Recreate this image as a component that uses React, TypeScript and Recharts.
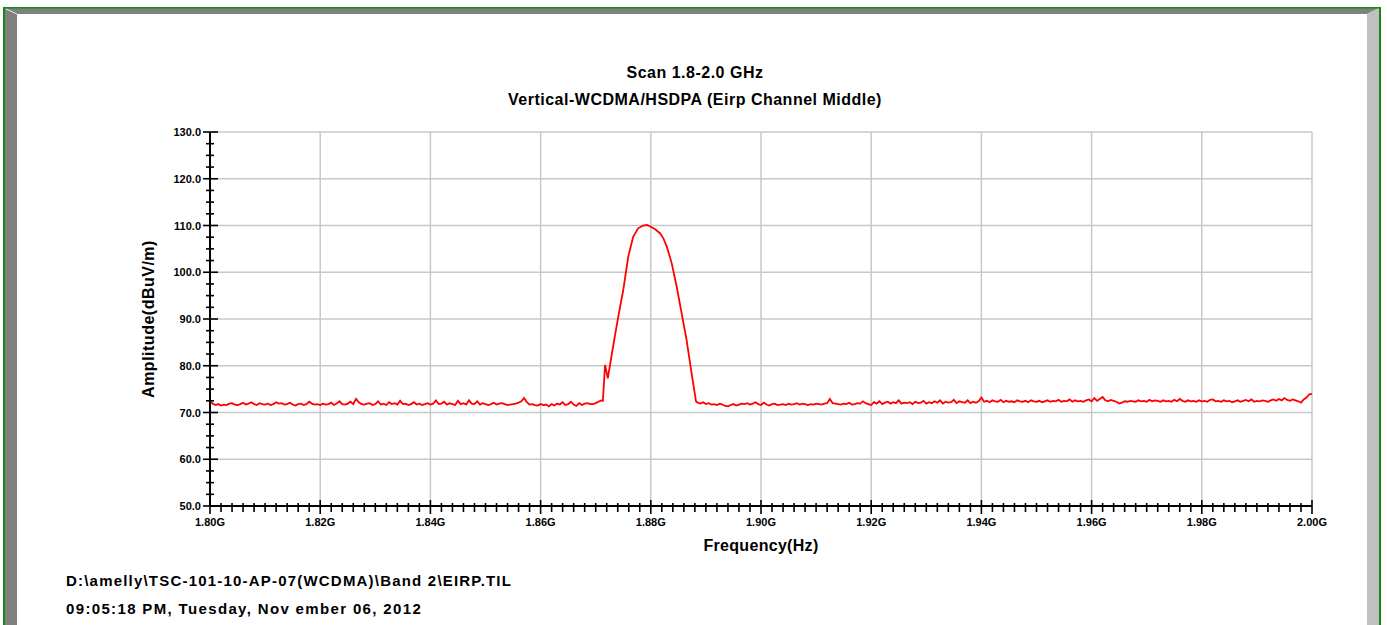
import { CartesianGrid, Line, LineChart, XAxis, YAxis } from "recharts"

const FONT = '"Liberation Sans", Arial, sans-serif'

// Noise floor below the carrier, 0.5 MHz steps starting at 1.800 GHz
const lowStartGHz = 1.8
const floorStepGHz = 0.0005
const lowFloor = [
  72.3, 71.9, 71.6, 71.8, 71.5, 71.7, 71.6, 71.9, 72.0, 71.7,
  71.6, 71.8, 72.1, 71.7, 71.9, 72.2, 71.8, 71.6, 72.0, 71.8,
  71.7, 71.9, 71.6, 71.8, 72.2, 71.9, 72.0, 71.7, 71.8, 72.1,
  71.7, 71.5, 71.8, 71.9, 71.6, 71.8, 72.3, 71.9, 71.7, 71.8,
  71.6, 71.9, 71.7, 71.8, 72.1, 71.6, 71.9, 72.4, 71.8, 71.7,
  71.9, 72.3, 71.8, 72.9, 72.2, 71.8, 71.7, 71.9, 72.0, 71.6,
  71.8, 72.4, 71.7, 71.9, 71.6, 72.2, 71.8, 72.0, 71.7, 72.5,
  71.8, 71.9, 71.6, 71.8, 72.2, 71.7, 71.9, 71.6, 71.8, 72.0,
  71.7, 71.9, 72.6, 71.8, 71.9, 72.3, 71.7, 72.0, 71.8, 71.6,
  72.5, 71.8, 72.0, 71.7, 72.6, 71.9, 71.8, 72.4, 71.7, 72.0,
  71.8, 71.6, 71.8, 72.1, 71.7, 71.9, 72.0, 71.8, 71.6, 71.7,
  71.8, 71.9, 72.1, 72.4, 73.1, 72.2, 71.7, 71.8, 71.6, 71.5,
  71.8, 71.6, 71.7, 71.3, 71.8, 71.5, 71.9, 71.7, 72.2, 71.6,
  71.8, 72.3, 71.7, 71.4, 72.0, 71.6, 71.9, 72.0, 71.8, 71.8,
  72.0, 72.3,
]

// Carrier (WCDMA channel around 1.88 GHz)
const carrierGHz = [
  1.871, 1.8713, 1.8717, 1.8722, 1.8729, 1.8735, 1.8741, 1.875, 1.8759,
  1.8768, 1.8777, 1.8786, 1.8793, 1.8799, 1.8808, 1.8817, 1.8823, 1.8829,
  1.8838, 1.8847, 1.8856, 1.8865, 1.8874, 1.8882,
]
const carrierLevel = [
  72.6, 72.5, 80.2, 77.3, 82.3, 86.5, 90.5, 96.2, 103.3,
  107.6, 109.4, 110.0, 110.1, 109.8, 109.2, 108.3, 107.2, 105.5,
  101.9, 96.9, 91.2, 85.5, 78.4, 72.4,
]

// Noise floor above the carrier, 0.5 MHz steps up to 2.000 GHz
const highStartGHz = 1.8885
const highFloor = [
  72.1, 71.9, 72.2, 71.8, 72.0, 71.7, 71.8, 71.6, 71.9, 71.7,
  71.4, 71.3, 71.6, 71.8, 71.5, 71.7, 71.9, 71.8, 72.0, 71.7,
  71.9, 72.2, 71.8, 71.6, 72.1, 71.7, 71.5, 71.8, 71.9, 71.6,
  71.7, 71.8, 71.6, 71.9, 71.7, 71.8, 72.0, 71.7, 71.9, 71.8,
  71.6, 71.8, 71.7, 71.9, 71.8, 71.7, 71.9, 72.0, 72.9, 72.0,
  71.9, 71.8, 71.7, 71.9, 71.8, 72.1, 71.7, 71.8, 72.0, 71.9,
  72.4, 72.0, 71.8, 71.6, 72.2, 71.9, 72.4, 71.8, 72.1, 72.3,
  71.9, 72.2, 72.0, 72.6, 71.9, 72.1, 72.0, 72.2, 71.8, 72.3,
  72.0, 72.1, 72.5, 71.9, 72.2, 72.0, 72.4, 72.1, 72.6, 71.9,
  72.3, 72.1, 72.2, 72.7, 72.0, 72.4, 72.2, 72.1, 72.6, 72.0,
  72.3, 72.1, 72.4, 73.2, 72.3, 72.5, 72.2, 72.6, 72.4, 72.3,
  72.7, 72.2, 72.5, 72.3, 72.4, 72.2, 72.6, 72.4, 72.3, 72.5,
  72.2, 72.6, 72.4, 72.3, 72.5, 72.2, 72.4, 72.6, 72.3, 72.5,
  72.4, 72.7, 72.3, 72.5, 72.4, 72.8, 72.3, 72.6, 72.4, 72.5,
  72.3, 72.6, 72.8, 72.4, 73.1, 72.5, 72.9, 73.3, 72.6, 72.4,
  72.7, 72.5, 72.3, 71.9, 72.1, 72.4, 72.3, 72.5, 72.4, 72.3,
  72.6, 72.4, 72.5, 72.3, 72.7, 72.4, 72.6, 72.5, 72.3, 72.6,
  72.4, 72.5, 72.3, 72.7, 72.4, 72.9, 72.5, 72.3, 72.6, 72.4,
  72.5, 72.3, 72.6, 72.4, 72.5, 72.3, 72.7, 72.8, 72.4, 72.5,
  72.3, 72.6, 72.4, 72.5, 72.2, 72.4, 72.6, 72.3, 72.5, 72.7,
  72.4, 72.8, 72.3, 72.5, 72.4, 72.6, 72.5, 72.3, 72.6, 72.8,
  72.5, 72.9, 72.6, 73.1, 72.7, 72.5, 72.8, 72.6, 72.4, 72.1,
  72.8, 73.2, 73.9, 74.0,
]

const freqMajorTicks = [1.8, 1.82, 1.84, 1.86, 1.88, 1.9, 1.92, 1.94, 1.96, 1.98, 2.0]
const ampMajorTicks = [50, 60, 70, 80, 90, 100, 110, 120, 130]
const freqMinorDivs = 10
const ampMinorDivs = 4

const titleLines = ["Scan 1.8-2.0 GHz", "Vertical-WCDMA/HSDPA (Eirp Channel Middle)"]
const filePathLine = "D:\\amelly\\TSC-101-10-AP-07(WCDMA)\\Band 2\\EIRP.TIL"
const timestampLine = "09:05:18 PM, Tuesday, Nov ember 06, 2012"

function subdivide(major: number[], divs: number) {
  const out: number[] = []
  for (let i = 0; i < major.length - 1; i++) {
    const step = (major[i + 1] - major[i]) / divs
    for (let j = 0; j < divs; j++) out.push(major[i] + step * j)
  }
  out.push(major[major.length - 1])
  return out
}

const isMajor = (v: number, major: number[]) =>
  major.some((m) => Math.abs(m - v) < 1e-6)

const data = [
  ...lowFloor.map((a, i) => ({ f: lowStartGHz + i * floorStepGHz, a })),
  ...carrierGHz.map((f, i) => ({ f, a: carrierLevel[i] })),
  ...highFloor.map((a, i) => ({ f: highStartGHz + i * floorStepGHz, a })),
]

function FreqTick(props: any) {
  const { x, y, payload } = props
  const major = isMajor(payload.value, freqMajorTicks)
  return (
    <g>
      <line
        x1={x}
        x2={x}
        y1={y - (major ? 6 : 3)}
        y2={y + (major ? 8 : 6)}
        stroke="#000"
        strokeWidth={1.6}
      />
      {major && (
        <text
          x={x}
          y={y + 20}
          textAnchor="middle"
          fontFamily={FONT}
          fontSize={11}
          fontWeight="bold"
          fill="#000"
        >
          {payload.value.toFixed(2)}G
        </text>
      )}
    </g>
  )
}

function AmpTick(props: any) {
  const { x, y, payload } = props
  const major = isMajor(payload.value, ampMajorTicks)
  return (
    <g>
      <line
        x1={x - (major ? 7 : 4)}
        x2={x + (major ? 8 : 4)}
        y1={y}
        y2={y}
        stroke="#000"
        strokeWidth={1.6}
      />
      {major && (
        <text
          x={x - 9}
          y={y + 4}
          textAnchor="end"
          fontFamily={FONT}
          fontSize={11}
          fontWeight="bold"
          fill="#000"
        >
          {payload.value.toFixed(1)}
        </text>
      )}
    </g>
  )
}

const textStyle = {
  position: "absolute" as const,
  fontFamily: FONT,
  fontWeight: "bold" as const,
  color: "#000",
  whiteSpace: "nowrap" as const,
}

// window border: green outline with a grey bevel inside
function Frame() {
  return (
    <svg
      width={1387}
      height={625}
      style={{ position: "absolute", left: 0, top: 0, pointerEvents: "none", zIndex: 5 }}
    >
      <polygon points="5,8 1379,8 1367,14 17,14" fill="#808080" />
      <polygon points="5,8 17,14 17,625 5,625" fill="#808080" />
      <polygon points="1379,8 1379,625 1367,625 1367,14" fill="#c0c0c0" />
      <line x1={6} y1={9} x2={17} y2={14} stroke="#e8e8e8" strokeWidth={1} />
      <rect x={3} y={7} width={2} height={618} fill="#138a13" />
      <rect x={3} y={7} width={1378} height={1.5} fill="#138a13" />
      <rect x={1379} y={7} width={2} height={618} fill="#138a13" />
    </svg>
  )
}

export default function App() {
  return (
    <div
      style={{
        position: "absolute",
        left: 0,
        top: 0,
        width: 1387,
        height: 625,
        background: "#fff",
        overflow: "hidden",
      }}
    >
      <div
        style={{
          ...textStyle,
          left: 0,
          width: 1390,
          top: 59,
          fontSize: 16,
          letterSpacing: 0.5,
          textAlign: "center",
          lineHeight: "27px",
        }}
      >
        {titleLines.map((t) => (
          <div key={t}>{t}</div>
        ))}
      </div>

      <LineChart
        width={1387}
        height={625}
        data={data}
        margin={{ top: 132, right: 75, bottom: 89, left: 150 }}
        style={{ position: "absolute", left: 0, top: 0 }}
      >
        <CartesianGrid
          stroke="#c8c8c8"
          strokeWidth={1.5}
          horizontalValues={ampMajorTicks}
          verticalValues={freqMajorTicks}
        />
        <XAxis
          dataKey="f"
          type="number"
          domain={[1.8, 2.0]}
          ticks={subdivide(freqMajorTicks, freqMinorDivs)}
          interval={0}
          tickSize={0}
          tickMargin={0}
          tickLine={false}
          axisLine={{ stroke: "#000", strokeWidth: 2 }}
          tick={<FreqTick />}
          height={30}
        />
        <YAxis
          type="number"
          domain={[50, 130]}
          ticks={subdivide(ampMajorTicks, ampMinorDivs)}
          interval={0}
          tickSize={0}
          tickMargin={0}
          tickLine={false}
          axisLine={{ stroke: "#000", strokeWidth: 2 }}
          tick={<AmpTick />}
          width={60}
        />
        <Line
          dataKey="a"
          type="linear"
          stroke="#ff0000"
          strokeWidth={1.8}
          dot={false}
          isAnimationActive={false}
        />
      </LineChart>

      <div
        style={{
          ...textStyle,
          fontSize: 16,
          letterSpacing: 0.5,
          left: 149,
          top: 319,
          transform: "translate(-50%, -50%) rotate(-90deg)",
        }}
      >
        Amplitude(dBuV/m)
      </div>
      <div
        style={{
          ...textStyle,
          fontSize: 16,
          letterSpacing: 0.3,
          left: 761,
          top: 546,
          transform: "translate(-50%, -50%)",
        }}
      >
        Frequency(Hz)
      </div>

      <div style={{ ...textStyle, fontSize: 15, letterSpacing: 1.2, left: 66, top: 571, lineHeight: "20px" }}>
        {filePathLine}
      </div>
      <div style={{ ...textStyle, fontSize: 15, letterSpacing: 1.35, left: 66, top: 599, lineHeight: "20px" }}>
        {timestampLine}
      </div>

      <Frame />
    </div>
  )
}
